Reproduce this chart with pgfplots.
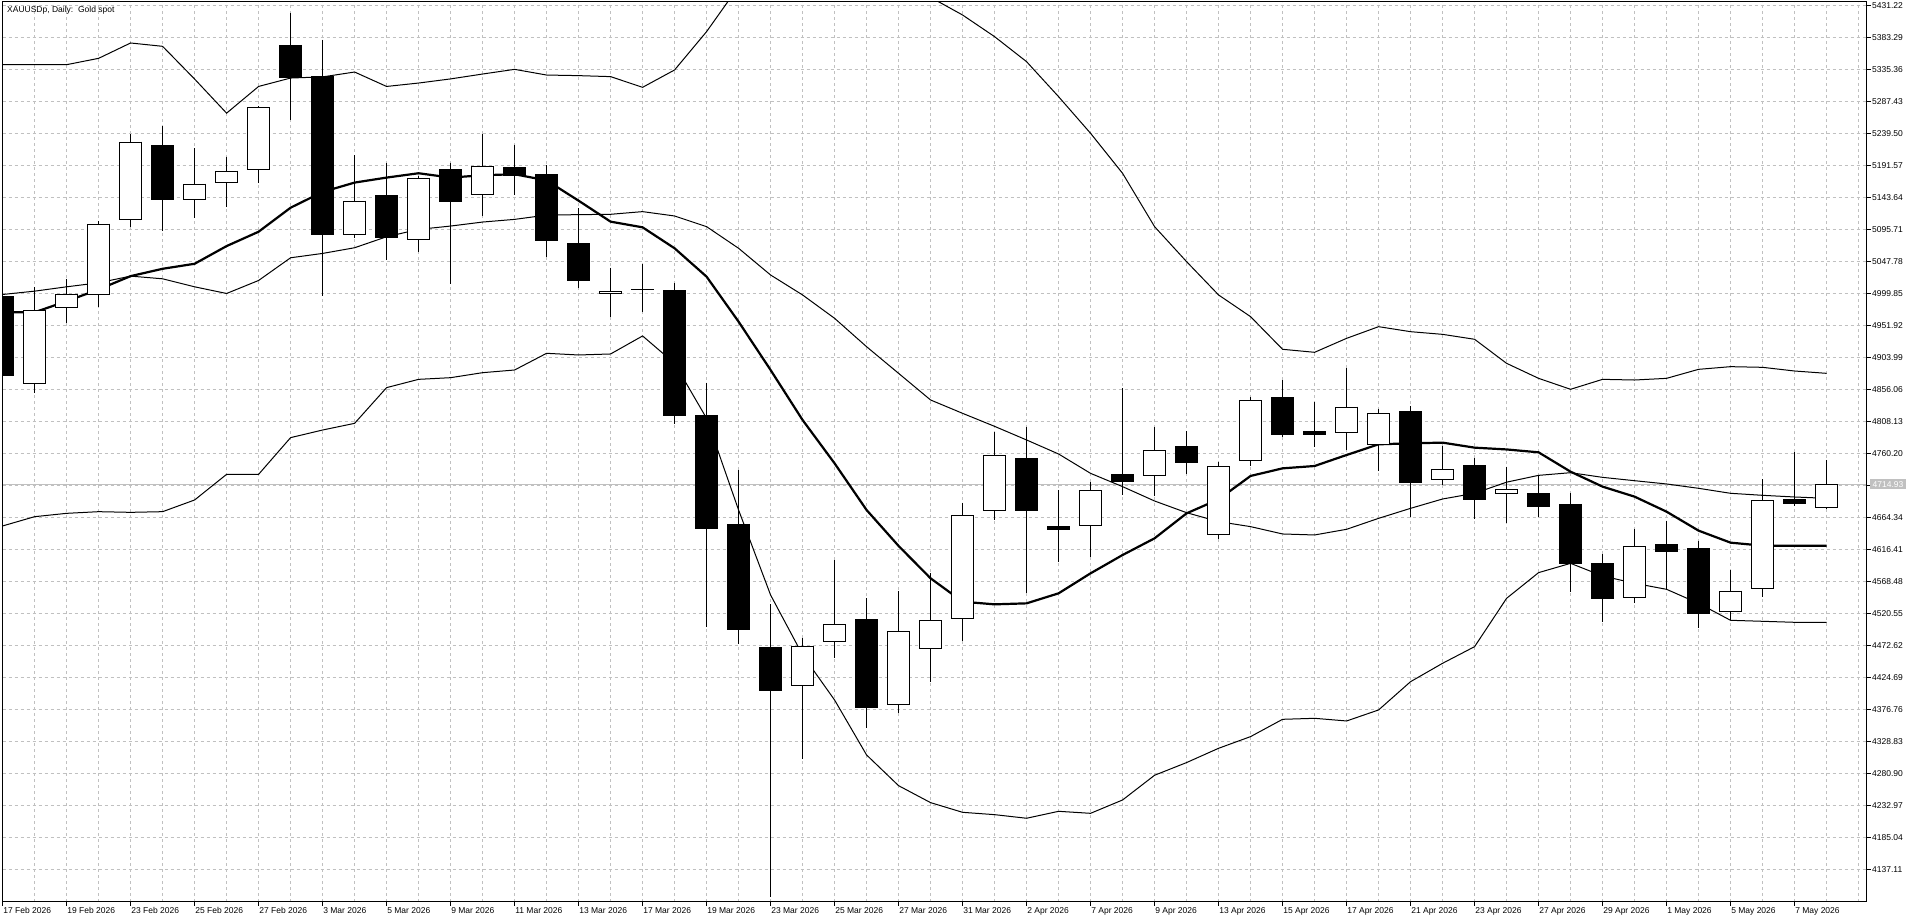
\documentclass[border=0pt]{standalone}
\usepackage{fontspec}
\setmainfont{Liberation Sans}
\usepackage{pgfplots}
\pgfplotsset{compat=1.18}
\usepackage{pgfplotstable}
\definecolor{gridgray}{RGB}{192,192,192}
\definecolor{pricegray}{RGB}{192,192,192}
\newcommand\mtfont{\fontsize{8.5}{10}\selectfont}

\pgfplotstableread{
x o h l c
1 4865.0 5010.6 4851.5 4976.5
2 4979.0 5022.6 4956.5 5000.1
3 4998.6 5109.1 4980.5 5105.1
4 5110.1 5239.2 5100.1 5228.2
6 5141.1 5218.2 5113.6 5165.2
7 5165.7 5205.7 5130.1 5184.7
8 5186.2 5281.0 5166.2 5279.2
11 5088.6 5207.7 5083.6 5139.6
13 5081.1 5176.5 5062.6 5174.2
15 5148.7 5239.2 5116.6 5191.2
19 4999.4 5039.3 4965.9 5003.8
25 4412.2 4484.1 4303.4 4472.1
26 4478.1 4601.4 4454.1 4505.1
28 4383.8 4555.0 4371.8 4494.6
29 4467.6 4581.5 4419.2 4511.1
30 4512.6 4687.3 4480.6 4668.8
31 4674.5 4792.7 4660.8 4758.5
34 4651.9 4718.3 4606.4 4705.8
36 4726.7 4800.6 4697.3 4765.7
38 4638.4 4748.7 4632.4 4741.7
39 4749.2 4845.1 4742.7 4840.6
42 4791.2 4888.5 4766.2 4831.1
43 4773.2 4827.1 4735.2 4821.1
45 4720.8 4772.2 4713.8 4737.2
47 4699.8 4741.2 4657.3 4707.3
51 4544.5 4647.9 4537.5 4621.9
54 4523.5 4586.4 4511.1 4555.5
55 4557.5 4722.7 4545.5 4690.8
57 4678.8 4751.5 4677.3 4714.9
}\bull

\pgfplotstableread{
x o h l c
0 4996.5 5001.0 4872.0 4877.5
5 5222.7 5251.2 5094.6 5140.6
9 5372.8 5420.8 5260.7 5323.7
10 5326.3 5380.8 4996.5 5088.1
12 5147.6 5195.7 5050.6 5083.6
14 5186.7 5196.7 5014.1 5137.6
16 5189.7 5223.7 5148.1 5176.7
17 5179.2 5192.7 5055.1 5079.1
18 5076.2 5128.2 5008.3 5019.8
20 5006.8 5044.3 4973.4 5005.3
21 5005.8 5015.8 4805.1 4817.6
22 4818.6 4867.0 4501.6 4648.4
23 4655.4 4736.2 4475.6 4497.1
24 4471.1 4535.5 4096.2 4405.7
27 4512.6 4544.0 4349.3 4380.3
32 4753.7 4800.6 4552.5 4675.3
33 4651.9 4706.3 4598.9 4646.9
35 4730.2 4858.6 4698.8 4718.8
37 4772.2 4794.6 4729.7 4747.2
40 4845.1 4871.0 4785.2 4789.2
41 4794.2 4838.1 4770.7 4788.2
44 4824.1 4832.1 4665.3 4717.3
46 4743.7 4753.7 4662.8 4691.8
48 4701.3 4728.7 4666.3 4681.3
49 4685.3 4701.3 4554.0 4594.9
50 4596.4 4609.9 4509.1 4542.5
52 4624.9 4660.3 4557.5 4612.9
53 4618.9 4629.9 4500.1 4521.0
56 4692.3 4763.0 4683.0 4684.8
}\bear

\pgfplotstableread{
x u m lo ma
0 5343.3 4999.1 4652.4 4972.5
1 5343.3 5004.1 4666.3 4972.5
2 5343.3 5010.6 4671.3 4989.0
3 5352.8 5016.6 4673.8 5006.6
4 5375.8 5026.6 4672.8 5026.6
5 5370.8 5022.6 4673.8 5037.6
6 5321.8 5010.6 4691.3 5045.1
7 5270.7 5000.6 4729.7 5071.6
8 5310.7 5020.1 4729.7 5093.1
9 5323.3 5054.1 4784.7 5129.1
10 5325.0 5060.6 4796.1 5152.7
11 5332.3 5069.1 4806.1 5166.7
12 5310.7 5085.6 4859.6 5174.2
13 5315.8 5096.6 4872.0 5180.7
14 5322.0 5101.6 4874.5 5174.2
15 5329.3 5107.6 4882.0 5177.7
16 5336.3 5111.6 4886.0 5179.2
17 5327.8 5118.0 4911.0 5170.0
18 5326.9 5118.7 4908.5 5139.6
19 5325.4 5119.2 4910.0 5108.2
20 5309.4 5123.2 4937.0 5099.7
21 5335.4 5116.7 4896.0 5068.3
22 5392.8 5100.7 4813.6 5025.8
23 5460.3 5068.3 4676.3 4958.4
24 5507.6 5028.3 4549.0 4886.0
25 5537.6 4998.4 4459.2 4811.1
26 5535.1 4963.4 4391.7 4746.2
27 5532.4 4920.9 4309.4 4676.3
28 5498.6 4881.0 4263.4 4622.5
29 5444.2 4841.1 4238.0 4574.0
30 5417.7 4821.1 4223.5 4539.0
31 5385.3 4801.6 4220.0 4535.0
32 5347.8 4781.2 4214.6 4536.5
33 5295.4 4760.2 4225.0 4551.5
34 5240.5 4731.2 4222.0 4581.5
35 5180.6 4711.3 4242.0 4608.9
36 5100.7 4689.8 4279.0 4633.9
37 5048.3 4672.3 4298.0 4671.3
38 4998.4 4658.9 4319.4 4692.3
39 4965.9 4651.4 4336.9 4727.3
40 4917.0 4640.4 4362.8 4738.7
41 4912.5 4638.9 4364.3 4742.2
42 4933.4 4647.4 4360.3 4758.7
43 4950.9 4663.8 4376.8 4774.7
44 4943.4 4678.8 4419.2 4776.2
45 4939.4 4692.8 4446.7 4777.2
46 4932.0 4701.3 4471.6 4769.7
47 4896.0 4718.0 4544.0 4767.0
48 4873.5 4728.2 4582.5 4762.7
49 4857.1 4732.2 4596.4 4733.7
50 4872.0 4725.2 4577.5 4711.3
51 4871.0 4720.2 4566.5 4696.3
52 4873.5 4715.3 4557.5 4673.8
53 4887.0 4708.8 4536.5 4645.4
54 4891.0 4701.3 4511.1 4627.4
55 4890.0 4698.3 4509.6 4622.9
56 4884.5 4695.8 4508.1 4622.9
57 4881.0 4693.8 4508.1 4622.9
}\bands

\begin{document}
\begin{tikzpicture}
\useasboundingbox (-2.5pt,-21pt) rectangle (1917.5pt,902pt);
\begin{axis}[
  at={(0pt,0pt)}, anchor=south west,
  scale only axis, width=1864.5pt, height=900pt,
  xmin=-0.003, xmax=58.263, ymin=4089.18, ymax=5437.21,
  clip mode=individual,
  axis line style={black, line width=1pt},
  xtick pos=left, ytick pos=right, yticklabel pos=right,
  tick align=outside, major tick length=4pt, minor tick length=0pt,
  tick style={black, line width=1pt},
  xtick={0,2,...,56},
  minor xtick={1,3,...,57,58},
  xticklabels={17 Feb 2026,19 Feb 2026,23 Feb 2026,25 Feb 2026,27 Feb 2026,3 Mar 2026,5 Mar 2026,9 Mar 2026,11 Mar 2026,13 Mar 2026,17 Mar 2026,19 Mar 2026,23 Mar 2026,25 Mar 2026,27 Mar 2026,31 Mar 2026,2 Apr 2026,7 Apr 2026,9 Apr 2026,13 Apr 2026,15 Apr 2026,17 Apr 2026,21 Apr 2026,23 Apr 2026,27 Apr 2026,29 Apr 2026,1 May 2026,5 May 2026,7 May 2026},
  ytick={4137.11,4185.04,4232.97,4280.90,4328.83,4376.76,4424.69,4472.62,4520.55,4568.48,4616.41,4664.34,4712.27,4760.20,4808.13,4856.06,4903.99,4951.92,4999.85,5047.78,5095.71,5143.64,5191.57,5239.50,5287.43,5335.36,5383.29,5431.22},
  yticklabels={4137.11,4185.04,4232.97,4280.90,4328.83,4376.76,4424.69,4472.62,4520.55,4568.48,4616.41,4664.34,,4760.20,4808.13,4856.06,4903.99,4951.92,4999.85,5047.78,5095.71,5143.64,5191.57,5239.50,5287.43,5335.36,5383.29,5431.22},
  xticklabel style={font=\mtfont, anchor=north west, inner sep=0pt, xshift=0.5pt, yshift=-1.5pt},
  yticklabel style={font=\mtfont, anchor=west, inner sep=0pt, xshift=1pt},
  grid=both,
  major grid style={gridgray, line width=1pt, dash pattern=on 3pt off 3pt},
  minor grid style={gridgray, line width=1pt, dash pattern=on 3pt off 3pt},
]
% current price line
\addplot[pricegray, line width=1pt, forget plot] coordinates {(-1,4714.93) (60,4714.93)};
% bands and moving average
\addplot[black, line width=1pt, forget plot] table[x=x, y=u] {\bands};
\addplot[black, line width=1pt, forget plot] table[x=x, y=m] {\bands};
\addplot[black, line width=1pt, forget plot] table[x=x, y=lo] {\bands};
\addplot[black, line width=2.2pt, forget plot] table[x=x, y=ma] {\bands};
% wicks
\addplot[draw=none, mark=none, forget plot, error bars/.cd, y dir=minus, y explicit, error mark=none,
  error bar style={draw=black, line width=1pt}]
  table[x=x, y=h, y error minus expr=\thisrow{h}-\thisrow{l}] {\bull};
\addplot[draw=none, mark=none, forget plot, error bars/.cd, y dir=minus, y explicit, error mark=none,
  error bar style={draw=black, line width=1pt}]
  table[x=x, y=h, y error minus expr=\thisrow{h}-\thisrow{l}] {\bear};
% bear bodies
\addplot[draw=none, mark=none, forget plot, error bars/.cd, y dir=minus, y explicit, error mark=none,
  error bar style={draw=black, line width=23pt}]
  table[x=x, y=o, y error minus expr=\thisrow{o}-\thisrow{c}] {\bear};
% bull bodies: outline then white fill
\addplot[draw=none, mark=none, forget plot, error bars/.cd, y dir=minus, y explicit, error mark=none,
  error bar style={draw=black, line width=23pt}]
  table[x=x, y=c, y error minus expr=\thisrow{c}-\thisrow{o}] {\bull};
\addplot[draw=none, mark=none, forget plot, error bars/.cd, y dir=minus, y explicit, error mark=none,
  error bar style={draw=white, line width=21pt, shorten <=1pt, shorten >=1pt}]
  table[x=x, y=c, y error minus expr=\thisrow{c}-\thisrow{o}] {\bull};
% title and price label
\node[anchor=north west, inner sep=0pt, font=\mtfont] at (rel axis cs:0,1) [xshift=4.5pt, yshift=-4pt] {XAUUSDp, Daily:\ \ Gold spot};
\node[anchor=west, fill=pricegray, text=white, inner xsep=2.5pt, inner ysep=2pt, font=\mtfont] at (axis cs:58.263,4714.93) [xshift=3pt] {4714.93};
\draw[black, line width=1pt] (rel axis cs:0,0) rectangle (rel axis cs:1,1);
\end{axis}
\end{tikzpicture}
\end{document}
